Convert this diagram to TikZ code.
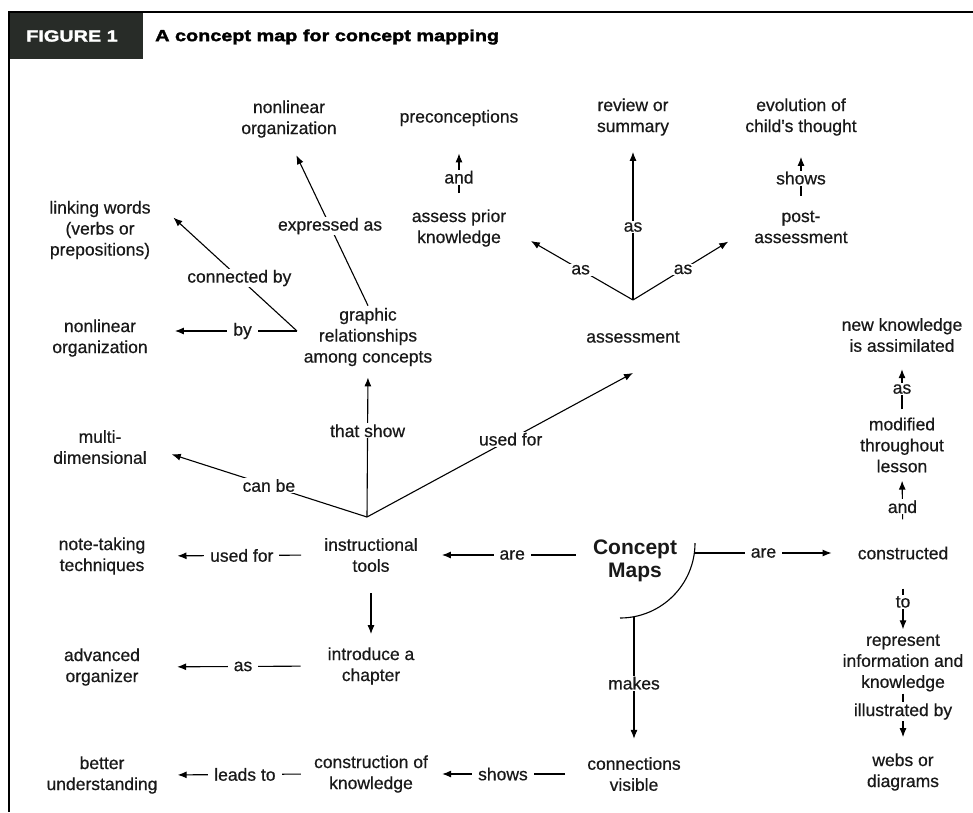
\documentclass[tikz,border=0pt]{standalone}
\usepackage{fontspec}
\setmainfont{Liberation Sans}
\newfontfamily\mapfont{Liberation Sans}[FakeBold=0.6]
\newfontfamily\headfont{Liberation Sans Bold}[FakeStretch=1.24,FakeBold=2.2]
\usetikzlibrary{arrows.meta}
\definecolor{headbg}{RGB}{40,44,40}
\definecolor{ink}{RGB}{25,25,25}
\tikzset{
  concept/.style={align=center, text=ink, font=\mapfont\fontsize{17.5}{21}\selectfont, inner sep=2pt},
  mainconcept/.style={align=center, text=ink, font=\fontsize{21}{23}\selectfont\bfseries, inner sep=2pt},
  lab/.style={fill=white, text=ink, font=\mapfont\fontsize{17.5}{21}\selectfont, inner xsep=6pt, inner ysep=1pt},
  link/.style={line width=1.1pt, -{Latex[length=9pt,width=7pt]}},
  plain/.style={line width=1.1pt}
}
\begin{document}
\begin{tikzpicture}[x=1pt,y=-1pt]
	\useasboundingbox (0,0) rectangle (973,812);
	% frame and heading
	\fill[headbg] (9,12) rectangle (143,59);
	\draw[line width=2pt] (973,12) -- (9,12) -- (9,812);
	\node[text=white, font=\headfont\fontsize{16}{18}\selectfont] (fig) at (72,36) {FIGURE 1};
	\node[anchor=west, inner sep=0pt, font=\headfont\fontsize{16}{18}\selectfont] (title) at (155,37) {A concept map for concept mapping};

	% concepts
	\node[concept] (nlo1) at (289,119) {nonlinear\\organization};
	\node[concept] (precon) at (459,118) {preconceptions};
	\node[concept] (review) at (633,117) {review or\\summary};
	\node[concept] (evol) at (801,117) {evolution of\\child's thought};
	\node[concept] (assess) at (459,228) {assess prior\\knowledge};
	\node[concept] (post) at (801,227) {post-\\assessment};
	\node[concept] (link) at (100,230) {linking words\\(verbs or\\prepositions)};
	\node[concept] (nlo2) at (100,338) {nonlinear\\organization};
	\node[concept] (graphic) at (368,337) {graphic\\relationships\\among concepts};
	\node[concept] (assessment) at (633,337) {assessment};
	\node[concept] (newk) at (902,335) {new knowledge\\is assimilated};
	\node[concept] (multi) at (100,447) {multi-\\dimensional};
	\node[concept] (modif) at (902,445) {modified\\throughout\\lesson};
	\node[concept] (note) at (102,556) {note-taking\\techniques};
	\node[concept] (tools) at (371,555) {instructional\\tools};
	\node[mainconcept] (cmap) at (635,561) {Concept\\Maps};
	\node[concept] (constr) at (903,553) {constructed};
	\node[concept] (adv) at (102,667) {advanced\\organizer};
	\node[concept] (intro) at (371,666) {introduce a\\chapter};
	\node[concept] (repr) at (903,663) {represent\\information and\\knowledge};
	\node[concept] (better) at (102,775) {better\\understanding};
	\node[concept] (constrk) at (371,774) {construction of\\knowledge};
	\node[concept] (conn) at (634,774) {connections\\visible};
	\node[concept] (webs) at (903,772) {webs or\\diagrams};

	% branch points
	\coordinate (tj) at (367,517);
	\coordinate (gj) at (297,331);
	\coordinate (aj) at (633,300);
	\coordinate (arcT) at (695,543);
	\coordinate (arcR) at (694,553);
	\coordinate (arcB) at (634,617);
	\draw[plain] (arcT) arc[start angle=0, end angle=90, radius=75];

	% links
	\draw[link, shorten >=25pt] (gj) -- node[lab, pos=0.37]{by} (nlo2.east |- gj);
	\draw[link, shorten >=28pt] (gj) -- node[lab, pos=0.4]{connected by} (link.north east);
	\draw[link, shorten >=17pt] (graphic.north) -- node[lab, pos=0.48]{expressed as} (nlo1.south);
	\draw[link, shorten >=24pt] (tj) -- node[lab, pos=0.45]{can be} (multi.east);
	\draw[link, shorten >=9pt] (tj) -- node[lab, pos=0.58]{that show} (graphic.south);
	\draw[link] (tj) -- node[lab, pos=0.54]{used for} ([yshift=-28pt]assessment.south);
	\draw[link, shorten >=26pt] (aj) -- node[lab, pos=0.42]{as} (assess.east);
	\draw[link, shorten >=28pt] (aj) -- node[lab, pos=0.42]{as} (post.west);
	\draw[link, shorten >=14pt] (aj) -- node[lab, pos=0.45]{as} (review.south);
	\draw[link, shorten <=14pt, shorten >=25pt] (assess.north) -- node[lab, pos=0.38]{and} (precon.south);
	\draw[link, shorten <=13pt, shorten >=19pt] (post.north) -- node[lab, pos=0.43]{shows} (evol.south);
	\draw[link, shorten <=6pt, shorten >=15pt] (modif.north) -- node[lab, pos=0.43]{as} (newk.south);
	\draw[link, shorten <=25pt, shorten >=6pt] (constr.north) -- node[lab, pos=0.54]{and} (modif.south);
	\draw[link, shorten <=27pt, shorten >=3pt] (constr.south) -- node[lab, pos=0.57]{to} (repr.north);
	\draw[link, shorten >=14pt] (repr.south) -- node[lab, pos=0.31]{illustrated by} (webs.north);
	\draw[link, shorten <=15pt, shorten >=22pt] (cmap.west |- tools) -- node[lab, pos=0.46]{are} (tools.east);
	\draw[link, shorten >=24pt] (arcR) -- node[lab, pos=0.43]{are} (constr.west);
	\draw[link, shorten >=16pt] (arcB) -- node[lab, pos=0.48]{makes} (conn.north);
	\draw[link, shorten <=20pt, shorten >=12pt] (conn.west) -- node[lab, pos=0.53]{shows} (constrk.east);
	\draw[link, shorten <=11pt, shorten >=18pt] (constrk.west) -- node[lab, pos=0.44]{leads to} (better.east);
	\draw[link, shorten <=21pt, shorten >=30pt] (tools.west) -- node[lab, pos=0.46]{used for} (note.east);
	\draw[link, shorten <=19pt, shorten >=11pt] (tools.south) -- (intro.north);
	\draw[link, shorten <=25pt, shorten >=35pt] (intro.west) -- node[lab, pos=0.45]{as} (adv.east);
\end{tikzpicture}
\end{document}
